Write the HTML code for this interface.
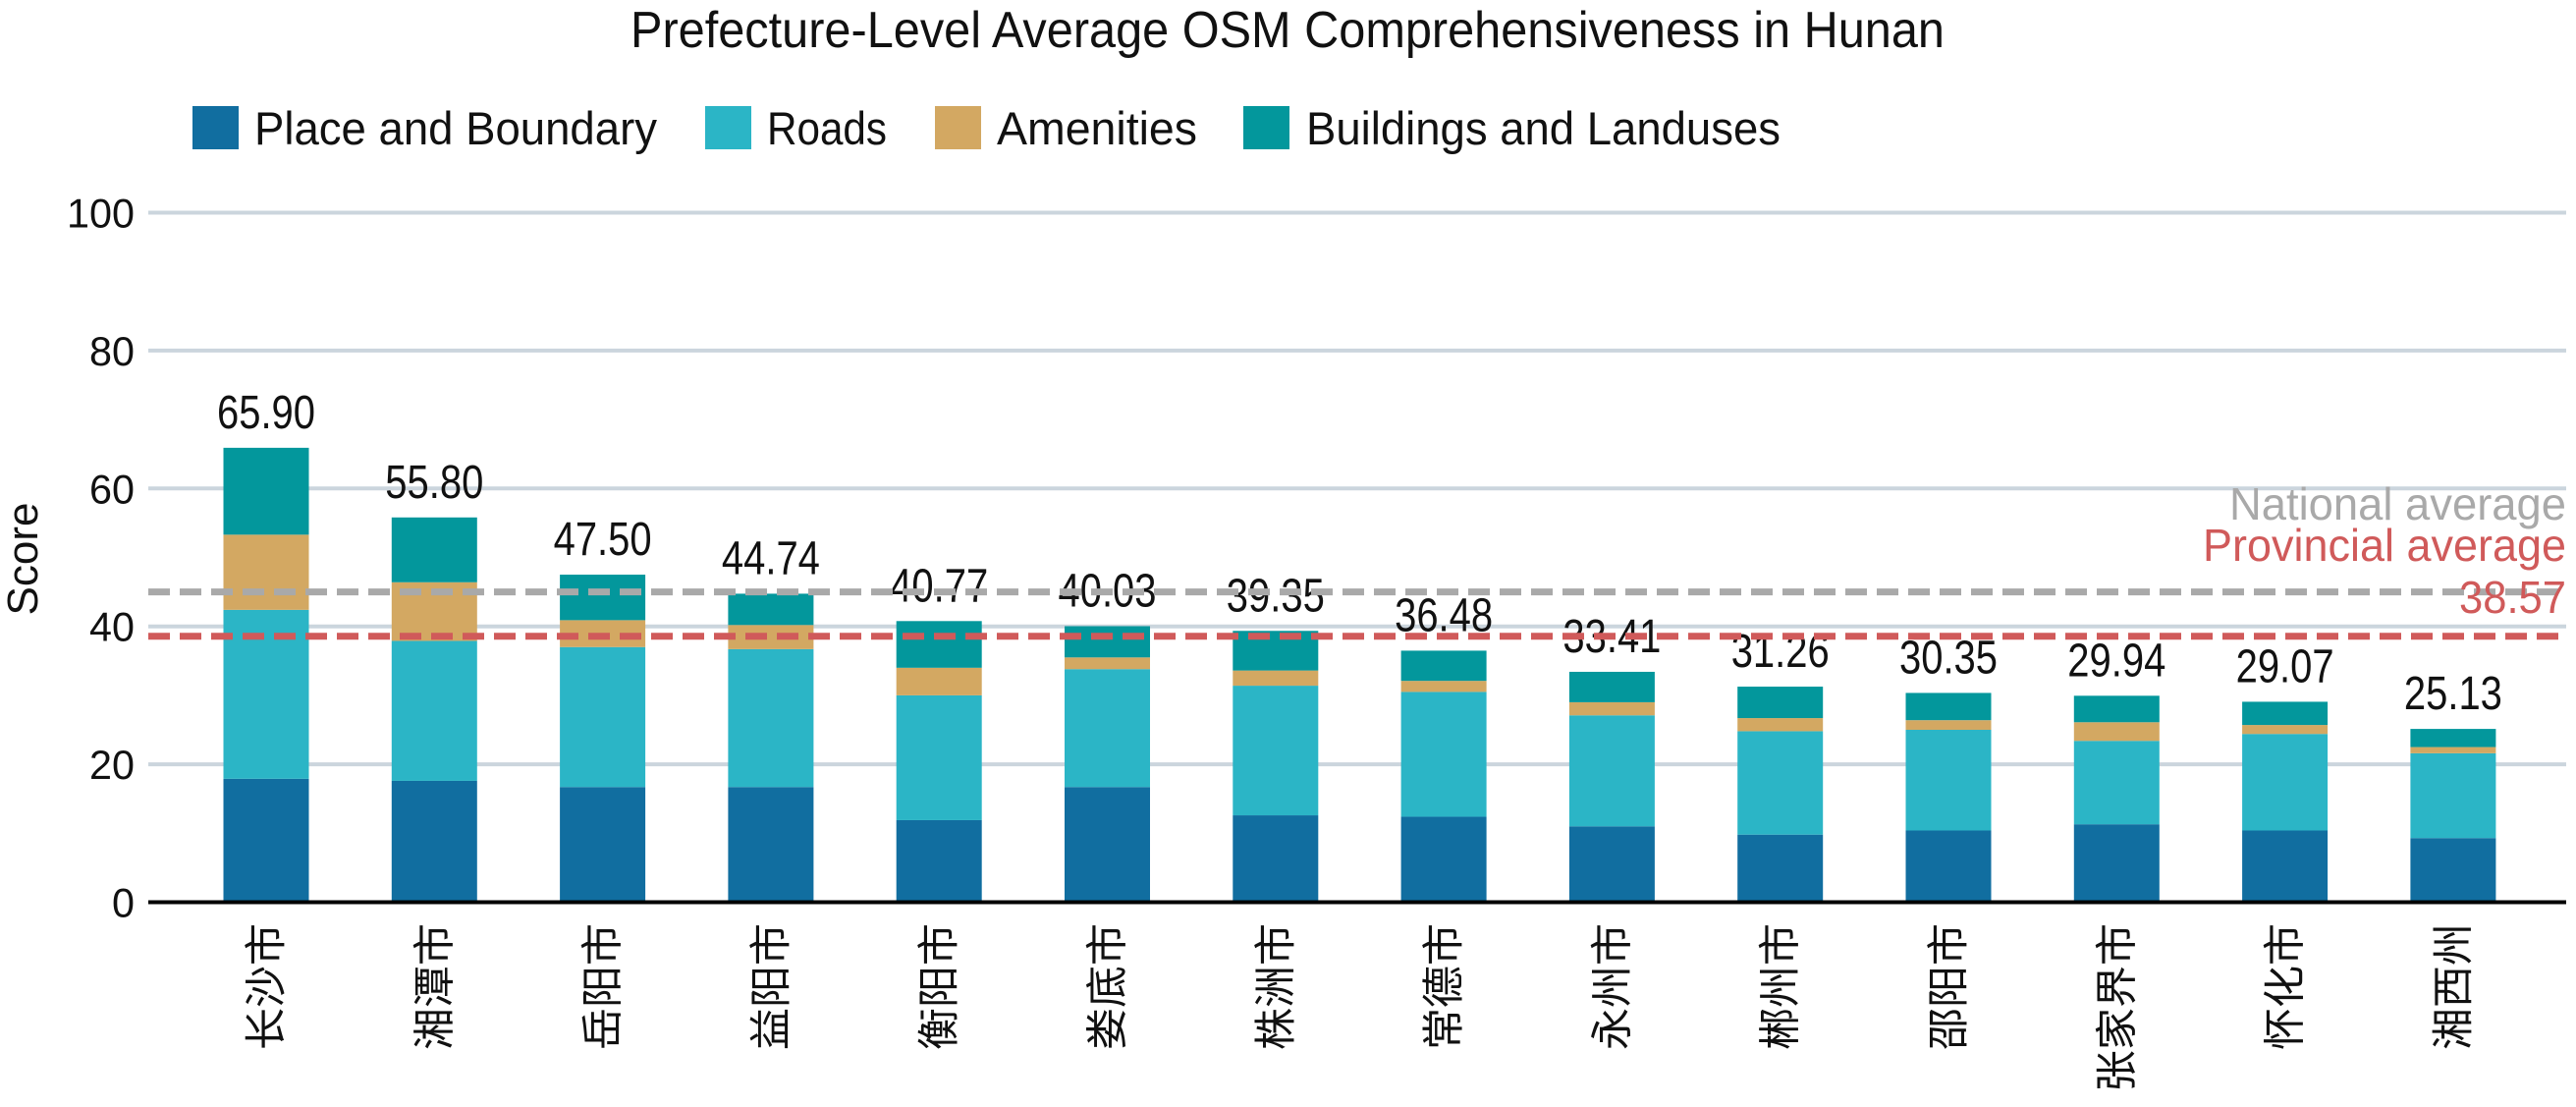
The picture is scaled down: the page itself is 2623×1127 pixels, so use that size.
<!DOCTYPE html>
<html><head><meta charset="utf-8"><style>
html,body{margin:0;padding:0;background:#fff;}
svg text{font-family:"Liberation Sans Narrow","Liberation Sans","Noto Sans CJK SC",sans-serif;}
.cjk{font-family:"Liberation Sans","Noto Sans CJK SC",sans-serif;}
</style></head><body>
<svg id="chart" width="2623" height="1122" viewBox="0 0 2623 1122" xmlns="http://www.w3.org/2000/svg">
<text x="1311" y="48" font-size="52" text-anchor="middle" textLength="1338" lengthAdjust="spacingAndGlyphs" fill="#111">Prefecture-Level Average OSM Comprehensiveness in Hunan</text>
<g>
<rect x="196" y="108" width="47" height="44" fill="#116ea0"/>
<text x="259" y="147" font-size="47" textLength="410" lengthAdjust="spacingAndGlyphs" fill="#111">Place and Boundary</text>
<rect x="718" y="108" width="47" height="44" fill="#2bb5c6"/>
<text x="781" y="147" font-size="47" textLength="122" lengthAdjust="spacingAndGlyphs" fill="#111">Roads</text>
<rect x="952" y="108" width="47" height="44" fill="#d3a862"/>
<text x="1015" y="147" font-size="47" textLength="204" lengthAdjust="spacingAndGlyphs" fill="#111">Amenities</text>
<rect x="1266" y="108" width="47" height="44" fill="#03979c"/>
<text x="1330" y="147" font-size="47" textLength="483" lengthAdjust="spacingAndGlyphs" fill="#111">Buildings and Landuses</text>
</g>
<text transform="translate(38,569) rotate(-90)" font-size="44" text-anchor="middle" fill="#111">Score</text>
<g id="grid"></g>
<g id="bars"></g>
<g id="refs"></g>
<g id="xlabels"></g>
</svg>
<script>
const categories = ["长沙市","湘潭市","岳阳市","益阳市","衡阳市","娄底市","株洲市","常德市","永州市","郴州市","邵阳市","张家界市","怀化市","湘西州"];
const placeVals = [17.9,17.6,16.7,16.7,11.9,16.7,12.6,12.4,11.0,9.8,10.4,11.3,10.4,9.3];
const roadVals = [24.5,20.3,20.3,20.0,18.1,17.1,18.8,18.1,16.1,15.0,14.6,12.1,14.0,12.3];
const amenityVals = [10.9,8.5,3.9,3.5,4.0,1.7,2.2,1.6,1.9,1.9,1.4,2.7,1.3,0.9];
const totals = [65.90,55.80,47.50,44.74,40.77,40.03,39.35,36.48,33.41,31.26,30.35,29.94,29.07,25.13];
const totalLabels = ["65.90","55.80","47.50","44.74","40.77","40.03","39.35","36.48","33.41","31.26","30.35","29.94","29.07","25.13"];
const yTicks = [0,20,40,60,80,100];
const nationalAvg = 45.0;
const provincialAvg = 38.57;

const NS="http://www.w3.org/2000/svg";
const x0=151,x1=2613,yBase=918.5,pxPerUnit=7.02;
const y = v => yBase - v*pxPerUnit;
const xc = i => 271 + 171.3*i;
const bw = 87;
function mk(tag, parent, attrs){const e=document.createElementNS(NS,tag);for(const k in attrs)e.setAttribute(k,attrs[k]);parent.appendChild(e);return e;}
const grid=document.getElementById('grid'),bars=document.getElementById('bars'),refs=document.getElementById('refs'),xl=document.getElementById('xlabels');
yTicks.forEach(t=>{
  if(t>0){const g=mk('line',grid,{x1:x0,x2:x1,y1:y(t),y2:y(t),stroke:'#cbd5dd','stroke-width':4});
  
  }
  const tx=mk('text',grid,{x:137,y:y(t)+15,'font-size':42,'text-anchor':'end',fill:'#111',textLength:(String(t).length*23),lengthAdjust:'spacingAndGlyphs'});
  tx.textContent=t;
  
  
});
const colors=['#116ea0','#2bb5c6','#d3a862','#03979c'];
const segNames=['place','roads','amenities','buildings'];
categories.forEach((c,i)=>{
  const vals=[placeVals[i],roadVals[i],amenityVals[i],totals[i]-placeVals[i]-roadVals[i]-amenityVals[i]];
  let acc=0;
  vals.forEach((v,k)=>{
    const r=mk('rect',bars,{x:xc(i)-bw/2,y:y(acc+v),width:bw,height:v*pxPerUnit,fill:colors[k]});
    
    
    acc+=v;
  });
  const lb=mk('text',bars,{x:xc(i),y:y(totals[i])-20,'font-size':48,'text-anchor':'middle',fill:'#111',textLength:100,lengthAdjust:'spacingAndGlyphs'});
  lb.textContent=totalLabels[i];
  
  
  const xt=mk('text',xl,{transform:`translate(${xc(i)+15},940) rotate(-90)`,'font-size':43,'text-anchor':'end',fill:'#111',class:'cjk'});
  xt.textContent=c;
  
  
});
const base=mk('line',bars,{x1:x0,x2:x1,y1:yBase,y2:yBase,stroke:'#000','stroke-width':4});


const nl=mk('line',refs,{x1:x0,x2:x1,y1:y(nationalAvg),y2:y(nationalAvg),stroke:'#a9a9a9','stroke-width':7,'stroke-dasharray':'22 10'});


const pl=mk('line',refs,{x1:x0,x2:x1,y1:y(provincialAvg),y2:y(provincialAvg),stroke:'#d05a5a','stroke-width':7,'stroke-dasharray':'22 10'});


const t1=mk('text',refs,{x:2613,y:529,'font-size':46,'text-anchor':'end',fill:'#a9a9a9',textLength:343,lengthAdjust:'spacingAndGlyphs'});
t1.textContent='National average';


const t2=mk('text',refs,{x:2613,y:571,'font-size':46,'text-anchor':'end',fill:'#d05a5a',textLength:370,lengthAdjust:'spacingAndGlyphs'});
t2.textContent='Provincial average';


const t3=mk('text',refs,{x:2613,y:624,'font-size':46,'text-anchor':'end',fill:'#d05a5a',textLength:109,lengthAdjust:'spacingAndGlyphs'});
t3.textContent=provincialAvg.toFixed(2);


</script>
</body></html>
